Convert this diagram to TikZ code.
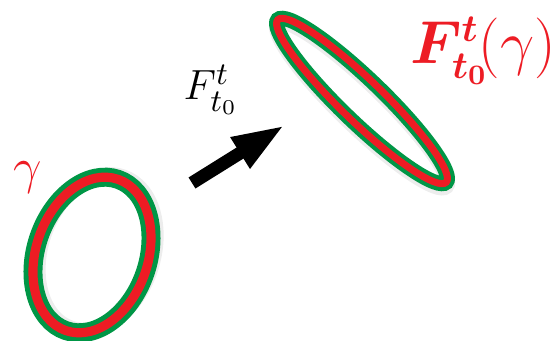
\documentclass[tikz,border=0pt]{standalone}
\usepackage{amsmath,amssymb,bm}
\usetikzlibrary{arrows.meta}
\definecolor{ringgreen}{RGB}{0,150,70}
\definecolor{ringred}{RGB}{237,28,36}
\tikzset{
  band/.style={draw=ringgreen,line width=#1},
  band/.default=4.3pt,
  core/.style={draw=ringred,line width=#1},
  core/.default=2.0pt,
  haze/.style={draw=black!7,line width=4.3pt},
  flow/.style={-{Triangle[length=5.3mm,width=3.3mm]},line width=3.7pt},
  lab/.style={inner sep=0pt,font=\fontsize{13}{15}\selectfont},
}

\begin{document}
\begin{tikzpicture}[x=0.1mm,y=0.1mm]
  \path[use as bounding box] (0,0) rectangle (554,341);
  \coordinate (src) at (92,86);
  \coordinate (img) at (362,240);

  % faint shadows
  \draw[haze,rotate around={71:(src)}] ([shift={(4,-4)}]src) ellipse [x radius=80,y radius=56];
  \draw[haze,rotate around={-44:(img)}] ([shift={(3,-3)}]img) ellipse [x radius=117,y radius=21];

  % the loop and its image
  \draw[band=5.4pt,rotate around={71:(src)}] (src) ellipse [x radius=80,y radius=56];
  \draw[core=2.6pt,rotate around={71:(src)}] (src) ellipse [x radius=80,y radius=56];
  \draw[band,rotate around={-44:(img)}] (img) ellipse [x radius=117,y radius=21];
  \draw[core,rotate around={-44:(img)}] (img) ellipse [x radius=117,y radius=21];

  \coordinate (tail) at (192,158);
  \coordinate (tip) at (285,216);
  \draw[flow] (tail) -- (tip);

  \node[lab,text=ringred,font=\fontsize{15}{17}\selectfont] (gam) at (28,163) {$\gamma$};
  \node[lab] (map) at (211,251) {$F^{t}_{t_0}$};
  \node[lab,text=ringred,font=\fontsize{16}{19}\selectfont] (imgname) at (483,290)
    {$\boldsymbol{F^{t}_{t_0}}\!(\gamma)$};
\end{tikzpicture}
\end{document}
